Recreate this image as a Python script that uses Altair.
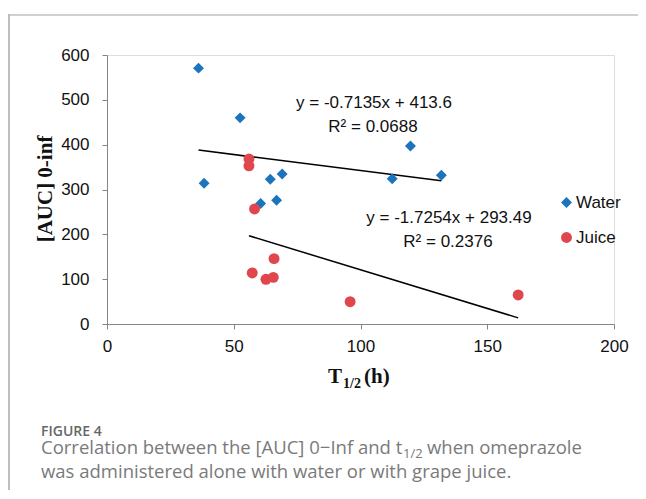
import altair as alt
import pandas as pd

# ---- data ----
water_x = [36.1, 52.5, 38.3, 64.4, 69.1, 60.6, 66.9, 112.5, 119.7, 131.9]
water_y = [570.7, 459.8, 314.0, 323.0, 334.8, 269.0, 276.0, 324.0, 397.0, 332.0]
juice_x = [56.0, 56.0, 58.2, 57.3, 62.7, 65.6, 65.9, 95.9, 162.2]
juice_y = [368.0, 352.7, 256.7, 113.8, 99.8, 104.0, 145.8, 49.8, 64.7]

series_names = ["Water", "Juice"]
slopes = [-0.7135, -1.7254]
intercepts = [413.6, 293.49]
eq_texts = ["y = -0.7135x + 413.6", "y = -1.7254x + 293.49"]
r2_texts = ["R² = 0.0688", "R² = 0.2376"]

x_ticks = [0, 50, 100, 150, 200]
y_ticks = [0, 100, 200, 300, 400, 500, 600]

caption_head = "FIGURE 4"
caption_1a = "Correlation between the [AUC] 0\u2212Inf and t"
caption_1b = "1/2"
caption_1c = "when omeprazole"
caption_2 = "was administered alone with water or with grape juice."

BLUE = "#1C75BC"
RED = "#E0474C"

pts = pd.DataFrame(
    [{"x": a, "y": b, "series": "Water"} for a, b in zip(water_x, water_y)]
    + [{"x": a, "y": b, "series": "Juice"} for a, b in zip(juice_x, juice_y)]
)

trend_rows = []
for name, xs, m, b in zip(series_names, [water_x, juice_x], slopes, intercepts):
    for xv in (min(xs), max(xs)):
        trend_rows.append({"x": xv, "y": m * xv + b, "series": name})
trend = pd.DataFrame(trend_rows)

one = pd.DataFrame({"k": [0]})

W, H = 507, 269
xscale = alt.Scale(domain=[0, 200], nice=False)
yscale = alt.Scale(domain=[0, 600], nice=False)

axis_common = dict(
    grid=False,
    domainColor="#868686",
    tickColor="#868686",
    tickSize=5,
    labelFont="Liberation Sans",
    labelFontSize=17,
    labelColor="#111111",
    labelFlush=False,
    title=None,
)

points = alt.Chart(pts).mark_point(filled=True, opacity=1, size=120).encode(
    x=alt.X("x:Q", scale=xscale, axis=alt.Axis(values=x_ticks, labelPadding=9, **axis_common)),
    y=alt.Y("y:Q", scale=yscale, axis=alt.Axis(values=y_ticks, labelPadding=13, **axis_common)),
    color=alt.Color(
        "series:N",
        scale=alt.Scale(domain=series_names, range=[BLUE, RED]),
        legend=alt.Legend(
            title=None,
            orient="none",
            legendX=451,
            legendY=139,
            padding=0,
            labelFont="Liberation Sans",
            labelFontSize=17,
            labelColor="#111111",
            symbolSize=120,
            rowPadding=17,
            labelOffset=1,
        ),
    ),
    shape=alt.Shape(
        "series:N",
        scale=alt.Scale(domain=series_names, range=["diamond", "circle"]),
    ),
)

lines = alt.Chart(trend).mark_line(color="black", strokeWidth=1.5).encode(
    x=alt.X("x:Q", scale=xscale),
    y=alt.Y("y:Q", scale=yscale),
    detail="series:N",
)

def txt(s, x, y, **kw):
    base = dict(font="Liberation Sans", fontSize=17, color="#111111", align="center", baseline="middle")
    base.update(kw)
    return alt.Chart(one).mark_text(text=s, **base).encode(x=alt.value(x), y=alt.value(y))

eq1 = txt(eq_texts[0], 267, 48)
r21 = txt(r2_texts[0], 266, 72)
eq2 = txt(eq_texts[1], 342, 163)
r22 = txt(r2_texts[1], 341, 187)

serif = dict(font="Liberation Serif", fontWeight="bold", color="#111111")
ytitle = txt("[AUC] 0-inf", -61, 134, angle=270, fontSize=21, **serif)
xt1 = txt("T", 235, 328, align="right", baseline="alphabetic", fontSize=21, **serif)
xt2 = txt("1/2", 236, 333, align="left", baseline="alphabetic", fontSize=14, **serif)
xt3 = txt("(h)", 257, 328, align="left", baseline="alphabetic", fontSize=21, **serif)

cap = dict(font="Open Sans", color="#7a7a7a", align="left", baseline="alphabetic")
c0 = txt(caption_head, -66, 381, fontSize=14, fontWeight=600, **{**cap, "color": "#666666"})
c1 = txt(caption_1a, -66, 399, fontSize=18.5, **cap)
c1b = txt(caption_1b, 296, 403, fontSize=13, **cap)
c1c = txt(caption_1c, 320, 399, fontSize=18.5, **cap)
c2 = txt(caption_2, -66, 423, fontSize=18.5, **cap)

top_line = alt.Chart(one).mark_rect(color="#d0d0d0").encode(
    x=alt.value(-99), x2=alt.value(540), y=alt.value(-41), y2=alt.value(-39)
)
left_line = alt.Chart(one).mark_rect(color="#bdbdbd").encode(
    x=alt.value(-99), x2=alt.value(-97), y=alt.value(-41), y2=alt.value(440)
)

chart = alt.layer(
    top_line, left_line, lines, points, eq1, r21, eq2, r22,
    ytitle, xt1, xt2, xt3, c0, c1, c1b, c1c, c2,
).properties(
    width=W,
    height=H,
    autosize=alt.AutoSizeParams(type="none"),
    padding={"left": 99, "top": 47, "right": 24, "bottom": 166},
).configure_view(stroke=None).configure(background="white")

chart.save("out.html", embed_options={"renderer": "svg", "actions": False})
